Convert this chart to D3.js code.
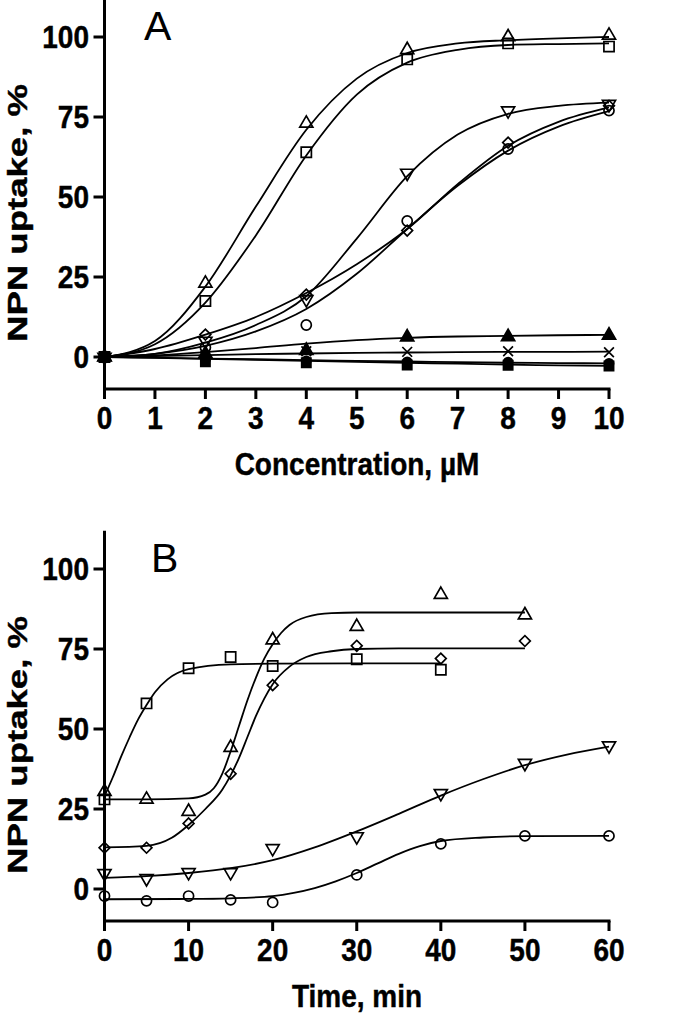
<!DOCTYPE html>
<html><head><meta charset="utf-8">
<script src="https://cdn.jsdelivr.net/npm/d3@7"></script>
<style>body{margin:0;background:#fff}svg{display:block}</style>
</head><body>
<svg id="c" width="700" height="1013"></svg>
<script>
// ---------- Panel A data (concentration, µM) ----------
const concX = [0, 2, 4, 6, 8, 10];
const aOpenTriangle = [0, 23, 73, 96, 100, 100.5];
const aOpenSquare   = [0, 17.5, 64, 93, 98, 97];
const aOpenInvTri   = [0, 5, 18, 57.5, 77, 79];
const aOpenDiamond  = [0, 7, 19.5, 39.5, 67, 78.5];
const aOpenCircle   = [0, 3, 10, 42.5, 65, 77];
const aFilledTri    = [0, 1, 2, 6.2, 6.3, 6.8];
const aCross        = [0, 0.3, 1.8, 1.6, 1.8, 1.5];
const aFilledCircle = [0, -0.8, -1.2, -1.5, -1.6, -2];
const aFilledSquare = [0, -1.5, -1.8, -2.5, -2.6, -2.8];

// fitted curves of panel A, read at each integer concentration
const concCurveX = [0, 1, 2, 3, 4, 5, 6, 7, 8, 9, 10];
const aFitTriangle = [0, 5, 22, 47, 71, 87, 95, 98, 99, 99.6, 100];
const aFitSquare   = [0, 4, 17, 38, 63, 82, 92, 96, 97.5, 97.8, 98];
const aFitInvTri   = [0, 1, 4.5, 10, 19, 37, 56.5, 69.5, 76, 78.5, 79.5];
const aFitDiamond  = [0, 2.5, 7, 12.5, 20, 29, 40, 54, 66, 73.5, 78];
const aFitCircle   = [0, 1, 3.5, 8, 15, 26, 40, 53.5, 64.5, 72, 76.8];
const aFitFilledTri = [0, 0.5, 1.5, 2.8, 4.2, 5.3, 6.0, 6.4, 6.6, 6.8, 6.9];
const aFitCross    = [0, 0.3, 0.6, 0.9, 1.1, 1.3, 1.4, 1.5, 1.6, 1.6, 1.7];
const aFitFilledCircle = [0, -0.2, -0.5, -0.7, -1, -1.2, -1.4, -1.6, -1.8, -1.9, -2];
const aFitFilledSquare = [0, -0.3, -0.6, -0.9, -1.2, -1.5, -1.8, -2.1, -2.4, -2.6, -2.8];

// ---------- Panel B data (time, min) ----------
const timeX = [0, 5, 10, 15, 20, 30, 40, 50, 60];
const bSquare   = [28, 58, 69, 72.5, 69.7, 71.8, 68.5];
const bTriangle = [30.4, 28, 24.2, 44.2, 77.8, 82, 92, 85.6];
const bDiamond  = [12.9, 12.9, 20.5, 36, 63.7, 76, 72, 77.5];
const bInvTri   = [4.9, 3.3, 5.2, 5.2, 12.7, 16.4, 29.9, 39.3, 44.8];
const bCircle   = [-2.2, -3.7, -2.2, -3.4, -4.2, 4.4, 14.1, 16.6, 16.6];

// fitted curves of panel B
const bFitSquareX = [0, 1, 2, 3, 4, 5, 6, 7.5, 10, 15, 20, 30, 40];
const bFitSquareY = [29, 35, 41.5, 47.5, 53, 57.5, 61.5, 65.5, 68.7, 70.2, 70.4, 70.5, 70.5];
const bFitTriX = [0, 5, 10, 12, 13, 14, 15, 16, 17, 18, 19, 20, 21, 22, 24, 27, 30, 40, 50];
const bFitTriY = [28, 28, 28.3, 29.5, 31.5, 36, 43, 51, 59, 66, 72, 76.5, 80, 82.5, 85, 86.2, 86.4, 86.4, 86.4];
const bFitDiaX = [0, 5, 8, 10, 12, 14, 15, 16, 17, 18, 19, 20, 22, 24, 27, 30, 35, 50];
const bFitDiaY = [13, 13.5, 16, 20, 25, 31, 35.5, 41, 47.5, 54, 59.5, 64, 69.5, 72.5, 74.3, 75, 75.2, 75.2];
const bFitInvX = [0, 5, 10, 15, 20, 25, 30, 35, 40, 45, 50, 55, 60];
const bFitInvY = [3.5, 4, 5, 6.5, 9, 13, 18, 23.5, 29.2, 34.3, 38.7, 42, 44.5];
const bFitCirX = [0, 10, 15, 20, 22.5, 25, 27.5, 30, 32.5, 35, 37.5, 40, 45, 50, 60];
const bFitCirY = [-3.2, -3.1, -2.9, -2.2, -1.2, 0.3, 2.4, 5, 8, 11, 13.4, 15, 16.1, 16.5, 16.6];

// tick labels
const yTicks = [0, 25, 50, 75, 100];
const aXTicks = [0, 1, 2, 3, 4, 5, 6, 7, 8, 9, 10];
const bXTicks = [0, 10, 20, 30, 40, 50, 60];

// ---------- drawing ----------
const svg = d3.select("#c");
const FONT = "'Liberation Sans', Arial, Helvetica, sans-serif";

const crossSym = {
  draw(ctx, size) {
    const r = Math.sqrt(size) / 2;
    ctx.moveTo(-r, -r); ctx.lineTo(r, r);
    ctx.moveTo(r, -r); ctx.lineTo(-r, r);
  }
};
const shapes = {
  tri:     {type: d3.symbolTriangle, size: 74, rot: 0},
  invtri:  {type: d3.symbolTriangle, size: 74, rot: 180},
  square:  {type: d3.symbolSquare, size: 104, rot: 0},
  diamond: {type: d3.symbolSquare, size: 58, rot: 45},
  circle:  {type: d3.symbolCircle, size: 80, rot: 0},
  cross:   {type: crossSym, size: 95, rot: 0}
};

function drawPanel(p) {
  const x = d3.scaleLinear().domain(p.xDomain).range([104.5, 609]);
  const y = d3.scaleLinear().domain([-10, 110]).range([p.y0 + 32, p.y0 - 352]);
  const g = svg.append("g");

  const line = d3.line().x(d => x(d[0])).y(d => y(d[1])).curve(d3.curveMonotoneX);
  p.curves.forEach(c => {
    g.append("path")
      .attr("d", line(d3.zip(c.x, c.y)))
      .attr("fill", "none").attr("stroke", "#000").attr("stroke-width", 1.8);
  });

  p.series.forEach(s => {
    const sh = shapes[s.shape];
    const sym = d3.symbol().type(sh.type).size(s.size || sh.size);
    g.selectAll(null).data(d3.zip(s.x.slice(0, s.y.length), s.y)).join("path")
      .attr("d", sym)
      .attr("transform", d => `translate(${x(d[0])},${y(d[1])}) rotate(${sh.rot})`)
      .attr("fill", s.filled ? "#000" : "none")
      .attr("stroke", "#000").attr("stroke-width", 1.7);
  });

  const axY = y(-10);
  const ax = svg.append("g").attr("stroke", "#000").attr("stroke-width", 3).attr("stroke-linecap", "square");
  ax.append("line").attr("x1", x(p.xDomain[0])).attr("x2", x(p.xDomain[1])).attr("y1", axY).attr("y2", axY);
  ax.append("line").attr("x1", x(p.xDomain[0])).attr("x2", x(p.xDomain[0])).attr("y1", y(111.5)).attr("y2", axY);
  ax.selectAll(null).data(p.xTicks).join("line")
    .attr("x1", d => x(d)).attr("x2", d => x(d)).attr("y1", axY).attr("y2", axY + 10)
    .attr("stroke-linecap", "butt");
  ax.selectAll(null).data(yTicks).join("line")
    .attr("x1", x(p.xDomain[0]) - 11).attr("x2", x(p.xDomain[0])).attr("y1", d => y(d)).attr("y2", d => y(d))
    .attr("stroke-linecap", "butt");

  const t = svg.append("g").attr("font-family", FONT).attr("font-weight", "bold").attr("fill", "#000")
    .attr("stroke", "#000").attr("stroke-width", 0.4);
  t.selectAll(null).data(p.xTicks).join("text")
    .attr("transform", d => `translate(${x(d)},${axY + 40}) scale(1,1.1)`).attr("text-anchor", "middle")
    .attr("font-size", 28).text(d => d);
  t.selectAll(null).data(yTicks).join("text")
    .attr("transform", d => `translate(89,${y(d) + 10.5}) scale(1,1.1)`).attr("text-anchor", "end")
    .attr("font-size", 28).text(d => d);
  t.append("text").attr("transform", `translate(357,${axY + 86}) scale(1,1.1)`).attr("text-anchor", "middle")
    .attr("font-size", 28).text(p.xTitle);
  t.append("text").attr("transform", `translate(27,${p.y0 - 144}) rotate(-90)`)
    .attr("text-anchor", "middle").attr("font-size", 27)
    .attr("textLength", 258).attr("lengthAdjust", "spacingAndGlyphs")
    .text("NPN uptake, %");

  svg.append("text").attr("x", p.labelX).attr("y", p.y0 - 317)
    .attr("font-family", FONT).attr("font-size", 41).attr("fill", "#000").text(p.label);
}

drawPanel({
  y0: 357, xDomain: [0, 10], xTicks: aXTicks, xTitle: "Concentration, \u00B5M", label: "A", labelX: 144,
  curves: [
    {x: concCurveX, y: aFitTriangle}, {x: concCurveX, y: aFitSquare},
    {x: concCurveX, y: aFitInvTri}, {x: concCurveX, y: aFitDiamond},
    {x: concCurveX, y: aFitCircle}, {x: concCurveX, y: aFitFilledTri},
    {x: concCurveX, y: aFitCross}, {x: concCurveX, y: aFitFilledCircle},
    {x: concCurveX, y: aFitFilledSquare}
  ],
  series: [
    {x: concX, y: aFilledSquare, shape: "square", filled: true, size: 85},
    {x: concX, y: aFilledCircle, shape: "circle", filled: true, size: 65},
    {x: concX, y: aCross, shape: "cross"},
    {x: concX, y: aFilledTri, shape: "tri", filled: true, size: 75},
    {x: concX, y: aOpenCircle, shape: "circle"},
    {x: concX, y: aOpenDiamond, shape: "diamond"},
    {x: concX, y: aOpenInvTri, shape: "invtri"},
    {x: concX, y: aOpenSquare, shape: "square"},
    {x: concX, y: aOpenTriangle, shape: "tri"}
  ]
});

drawPanel({
  y0: 889, xDomain: [0, 60], xTicks: bXTicks, xTitle: "Time, min", label: "B", labelX: 151,
  curves: [
    {x: bFitSquareX, y: bFitSquareY}, {x: bFitTriX, y: bFitTriY},
    {x: bFitDiaX, y: bFitDiaY}, {x: bFitInvX, y: bFitInvY}, {x: bFitCirX, y: bFitCirY}
  ],
  series: [
    {x: timeX, y: bCircle, shape: "circle"},
    {x: timeX, y: bInvTri, shape: "invtri"},
    {x: timeX, y: bDiamond, shape: "diamond"},
    {x: timeX, y: bSquare, shape: "square"},
    {x: timeX, y: bTriangle, shape: "tri"}
  ]
});
</script>
</body></html>
